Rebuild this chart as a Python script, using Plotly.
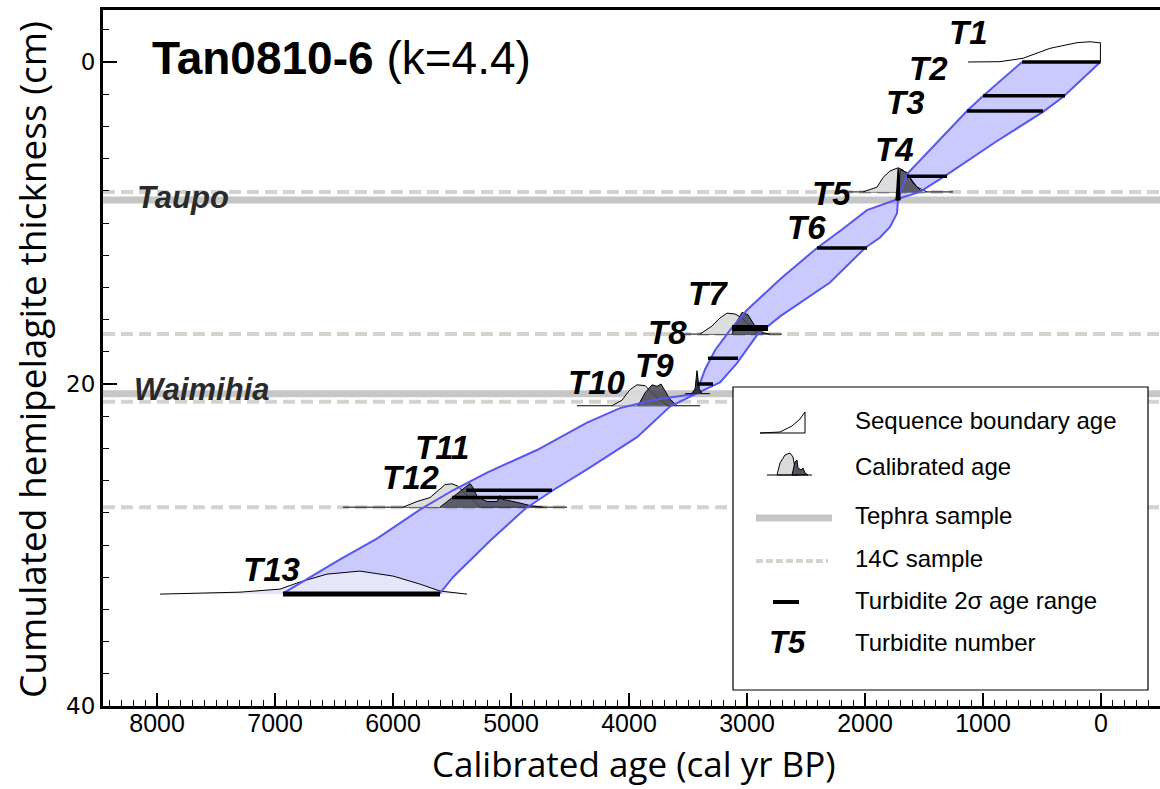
import plotly.graph_objects as go

# ---------------- axes ----------------
X_RANGE = [8458, -500]
Y_RANGE = [40, -3.23]
x_tick_vals = [0, 1000, 2000, 3000, 4000, 5000, 6000, 7000, 8000]
y_tick_vals = [0, 20, 40]

# ---------------- age-depth envelope (older / younger edges) ----------------
env_old_depth = [0, 2.11, 3.04, 6.9, 8.5, 9.2, 10.4, 11.55, 13.5, 15.4, 16.65, 17.9, 19.1, 20.0, 20.6,
                 21.0, 21.5, 22.4, 24.1, 25.5, 26.6, 27.8, 29.6, 30.9, 33.0]
env_old_age = [669, 1000, 1136, 1636, 1720, 1983, 2195, 2407, 2720, 3000, 3144, 3271, 3356, 3398, 3430,
               3797, 4076, 4356, 4780, 5203, 5492, 5771, 6136, 6449, 6932]
env_young_depth = [0, 2.17, 3.1, 5.0, 7.0, 8.07, 8.5, 9.4, 10.25, 10.9, 11.55, 13.7, 15.8, 16.96, 18.7,
                   19.9, 20.6, 21.4, 23.3, 25.3, 26.6, 27.75, 29.75, 32.0, 33.0]
env_young_age = [5, 322, 492, 900, 1305, 1534, 1720, 1729, 1788, 1873, 2000, 2297, 2720, 2915, 3085,
                 3229, 3430, 3653, 3932, 4356, 4644, 4880, 5180, 5492, 5602]

# ---------------- turbidites ----------------
turb_names = ["T1", "T2", "T3", "T4", "T5", "T6", "T7", "T8", "T9", "T10", "T11", "T12", "T13"]
turb_depth = [0, 2.1, 3.05, 7.1, 8.5, 11.55, 16.45, 16.6, 18.4, 20.0, 26.6, 27.05, 33.05]
turb_age_old = [669, 1000, 1136, 1644, 1740, 2407, 3127, 3127, 3331, 3424, 5380, 5500, 6932]
turb_age_young = [5, 305, 492, 1305, 1700, 1983, 2822, 2822, 3076, 3288, 4653, 4771, 5602]
turb_label_age = [1127, 1458, 1653, 1754, 2280, 2500, 3331, 3678, 3780, 4271, 5585, 5848, 7034]
turb_label_depth = [-1.86, 0.37, 2.48, 5.4, 8.14, 10.25, 14.35, 16.77, 18.8, 19.88, 23.9, 25.78, 31.5]

# ---------------- samples ----------------
tephra_names = ["Taupo", "Waimihia"]
tephra_depth = [8.57, 20.6]
tephra_label_age = [7780, 7620]
tephra_label_depth = [8.39, 20.37]
c14_depth = [8.07, 16.9, 21.1, 27.65]

# ---------------- sequence boundary age distributions ----------------
seq_t1_base = 0.0
seq_t1_age = [1127, 856, 661, 432, 203, 93, 25, 5, 5]
seq_t1_h = [0, 0.02, 0.23, 0.85, 1.2, 1.26, 1.2, 1.2, 0]
seq_t13_base = 33.05
seq_t13_age = [7975, 7297, 6958, 6789, 6560, 6280, 6000, 5771, 5602, 5373]
seq_t13_h = [0, 0.12, 0.31, 0.75, 1.24, 1.43, 1.12, 0.62, 0.19, 0]

# ---------------- calibrated age distributions ----------------
cal_base_depth = [8.07, 16.9, 21.35, 27.65]
cal_base_old = [2144, 3525, 4441, 6424]
cal_base_young = [1254, 2703, 3398, 4525]

cal_a_light_age = [2017, 1898, 1847, 1788, 1720, 1678, 1619, 1559, 1475]
cal_a_light_h = [0, 0.3, 0.9, 1.3, 1.5, 1.35, 0.9, 0.3, 0]
cal_a_dark_age = [1712, 1703, 1644, 1593, 1517]
cal_a_dark_h = [0, 1.4, 1.2, 0.55, 0]

cal_b_light_age = [3398, 3297, 3229, 3170, 3102, 3042, 2975, 2907]
cal_b_light_h = [0, 0.5, 1.0, 1.3, 1.25, 1.0, 0.5, 0]
cal_b_dark_age = [3127, 3085, 3042, 2992, 2941, 2873, 2805]
cal_b_dark_h = [0, 0.8, 1.35, 1.2, 0.6, 0.1, 0]

cal_c_light_age = [4144, 4059, 3992, 3932, 3864, 3805, 3737, 3670]
cal_c_light_h = [0, 0.35, 1.0, 1.3, 1.25, 0.8, 0.35, 0]
cal_c_dark_age = [3924, 3864, 3805, 3763, 3729, 3695, 3653, 3593]
cal_c_dark_h = [0, 0.8, 1.3, 1.2, 1.35, 0.9, 0.4, 0]

cal_d_light_age = [5915, 5797, 5686, 5627, 5559, 5500, 5449, 5407, 5347, 5263]
cal_d_light_h = [0, 0.35, 0.6, 0.97, 1.4, 1.45, 1.3, 0.97, 0.6, 0]
cal_d_dark_age = [5602, 5517, 5407, 5347, 5322, 5288, 5203, 5119, 5093, 5068, 4949, 4839, 4729]
cal_d_dark_h = [0, 0.48, 1.1, 1.47, 1.22, 0.66, 0.35, 0.35, 0.72, 0.48, 0.3, 0.1, 0]

# tephra age spikes
taupo_spike_age = [1735, 1722, 1718, 1705]
taupo_spike_h = [0, 1.96, 1.96, 0]
waim_spike_age = [3470, 3440, 3424, 3405, 3380]
waim_spike_h = [0, 0.3, 1.43, 0.3, 0]
waim_spike_base_old = 3525
waim_spike_base_young = 3314

# ---------------- styles ----------------
BAND_FILL = "rgba(95,95,255,0.33)"
BAND_EDGE = "#5656f0"
LIGHT = "rgba(218,218,218,0.92)"
DARK = "rgba(70,70,85,0.85)"
TEPHRA_COLOR = "#c6c6c6"
C14_COLOR = "#d3d3cc"

fig = go.Figure()


def pdf_trace(ages, heights, base, fill, lw=1):
    ys = [base - h for h in heights]
    return go.Scatter(x=ages, y=ys, mode="lines", fill="toself" if fill else None,
                      fillcolor=fill, line=dict(color="black", width=lw),
                      hoverinfo="skip", showlegend=False)


# envelope band fill
band_x = env_old_age + env_young_age[::-1]
band_y = env_old_depth + env_young_depth[::-1]
fig.add_trace(go.Scatter(x=band_x, y=band_y, mode="lines", fill="toself", fillcolor=BAND_FILL,
                         line=dict(width=0), showlegend=False, hoverinfo="skip"))

# calibrated-age baselines
for d, a0, a1 in zip(cal_base_depth, cal_base_old, cal_base_young):
    fig.add_trace(go.Scatter(x=[a0, a1], y=[d, d], mode="lines",
                             line=dict(color="black", width=1), showlegend=False, hoverinfo="skip"))

# calibrated pdfs
for la, lh, da, dh, b in [
    (cal_a_light_age, cal_a_light_h, cal_a_dark_age, cal_a_dark_h, cal_base_depth[0]),
    (cal_b_light_age, cal_b_light_h, cal_b_dark_age, cal_b_dark_h, cal_base_depth[1]),
    (cal_c_light_age, cal_c_light_h, cal_c_dark_age, cal_c_dark_h, cal_base_depth[2]),
    (cal_d_light_age, cal_d_light_h, cal_d_dark_age, cal_d_dark_h, cal_base_depth[3]),
]:
    fig.add_trace(pdf_trace(la, lh, b, LIGHT))
    fig.add_trace(pdf_trace(da, dh, b, DARK))

# sequence boundary pdfs
fig.add_trace(pdf_trace(seq_t1_age, seq_t1_h, seq_t1_base, None))
fig.add_trace(pdf_trace(seq_t13_age, seq_t13_h, seq_t13_base, "#e6e6fa"))

# envelope band edges
fig.add_trace(go.Scatter(x=band_x, y=band_y, mode="lines",
                         line=dict(color=BAND_EDGE, width=2), showlegend=False, hoverinfo="skip"))

# tephra spikes
fig.add_trace(pdf_trace(taupo_spike_age, taupo_spike_h, tephra_depth[0], "black", lw=1.5))
fig.add_trace(go.Scatter(x=[waim_spike_base_old, waim_spike_base_young], y=[tephra_depth[1]] * 2,
                         mode="lines", line=dict(color="black", width=1), showlegend=False, hoverinfo="skip"))
fig.add_trace(pdf_trace(waim_spike_age, waim_spike_h, tephra_depth[1], "#333344", lw=1))

# turbidite 2-sigma ranges
for i, (d, a0, a1) in enumerate(zip(turb_depth, turb_age_old, turb_age_young)):
    fig.add_trace(go.Scatter(x=[a0, a1], y=[d, d], mode="lines",
                             line=dict(color="black", width=5 if i == len(turb_depth) - 1 else 3.5),
                             showlegend=False, hoverinfo="skip"))

# turbidite labels
for name, a, d in zip(turb_names, turb_label_age, turb_label_depth):
    fig.add_annotation(x=a, y=d, text="<b><i>%s</i></b>" % name, showarrow=False,
                       font=dict(family="Liberation Sans, Arial", size=33, color="black"),
                       xanchor="center", yanchor="middle", height=30)

# tephra labels
for name, a, d in zip(tephra_names, tephra_label_age, tephra_label_depth):
    fig.add_annotation(x=a, y=d, text="<b><i>%s</i></b>" % name, showarrow=False,
                       font=dict(family="Liberation Sans, Arial", size=31, color="#2a2a2a"),
                       xanchor="center", yanchor="middle")

# sample lines (full width)
shapes = []
for d in tephra_depth:
    shapes.append(dict(type="line", xref="paper", x0=0, x1=1, yref="y", y0=d, y1=d,
                       line=dict(color=TEPHRA_COLOR, width=7), layer="below"))
for d in c14_depth:
    shapes.append(dict(type="line", xref="paper", x0=0, x1=1, yref="y", y0=d, y1=d,
                       line=dict(color=C14_COLOR, width=4, dash="12px,6px"), layer="below"))

# ---------------- legend (pixel layout -> paper) ----------------
PL, PR, PT, PB = 103, 1160, 10, 706


def px(x):
    return (x - PL) / (PR - PL)


def py(y):
    return (PB - y) / (PB - PT)


shapes.append(dict(type="rect", xref="paper", yref="paper", x0=px(733), x1=px(1148), y0=py(387), y1=py(690),
                   fillcolor="white", line=dict(color="black", width=1.2), layer="above"))


def path(points, close=False):
    s = "M " + " L ".join("%f,%f" % (px(a), py(b)) for a, b in points)
    return s + (" Z" if close else "")


# sequence boundary icon
shapes.append(dict(type="path", xref="paper", yref="paper",
                   path=path([(760, 433), (780, 432), (792, 426), (800, 419), (805, 412), (805, 433), (760, 433)]),
                   line=dict(color="black", width=1), fillcolor="white", layer="above"))
# calibrated age icon
shapes.append(dict(type="path", xref="paper", yref="paper",
                   path=path([(777, 475), (780, 463), (785, 455), (790, 453), (793, 457), (795, 468), (798, 475)], True),
                   line=dict(color="black", width=1), fillcolor="#dadada", layer="above"))
shapes.append(dict(type="path", xref="paper", yref="paper",
                   path=path([(792, 475), (795, 462), (797, 460), (798, 468), (801, 470), (803, 468), (805, 473), (808, 475)], True),
                   line=dict(color="black", width=1), fillcolor="#55556a", layer="above"))
shapes.append(dict(type="line", xref="paper", yref="paper", x0=px(767), x1=px(812), y0=py(475), y1=py(475),
                   line=dict(color="black", width=1), layer="above"))
# tephra / 14C / turbidite icons
shapes.append(dict(type="line", xref="paper", yref="paper", x0=px(756), x1=px(832), y0=py(518), y1=py(518),
                   line=dict(color=TEPHRA_COLOR, width=7), layer="above"))
shapes.append(dict(type="line", xref="paper", yref="paper", x0=px(756), x1=px(828), y0=py(561), y1=py(561),
                   line=dict(color=C14_COLOR, width=4, dash="7px,3px"), layer="above"))
shapes.append(dict(type="line", xref="paper", yref="paper", x0=px(773), x1=px(799), y0=py(602), y1=py(602),
                   line=dict(color="black", width=4), layer="above"))

legend_texts = ["Sequence boundary age", "Calibrated age", "Tephra sample", "14C sample",
                "Turbidite 2σ age range", "Turbidite number"]
legend_text_y = [420, 467, 515, 558, 600, 642]
for t, yy in zip(legend_texts, legend_text_y):
    fig.add_annotation(xref="paper", yref="paper", x=px(853), y=py(yy), text=t, showarrow=False,
                       xanchor="left", yanchor="middle",
                       font=dict(family="Liberation Sans, Arial", size=24, color="black"))
fig.add_annotation(xref="paper", yref="paper", x=px(787), y=py(642), text="<b><i>T5</i></b>", showarrow=False,
                   xanchor="center", yanchor="middle",
                   font=dict(family="Liberation Sans, Arial", size=31, color="black"))

# title
fig.add_annotation(xref="paper", yref="paper", x=px(150), y=py(58), xanchor="left", yanchor="middle",
                   text="<b>Tan0810-6</b> (k=4.4)", showarrow=False,
                   font=dict(family="Liberation Sans, Arial", size=46, color="black"))

# axis titles
fig.add_annotation(xref="paper", yref="paper", x=px(634), y=py(763), xanchor="center", yanchor="middle",
                   text="Calibrated age (cal yr BP)", showarrow=False, height=44,
                   font=dict(family="Open Sans", size=35, color="black"))
fig.add_annotation(xref="paper", yref="paper", x=px(31), y=py(360), xanchor="center", yanchor="middle",
                   text="Cumulated hemipelagite thickness (cm)", textangle=-90, showarrow=False,
                   font=dict(family="Open Sans", size=37, color="black"))

fig.update_layout(
    width=1160, height=789,
    margin=dict(l=PL, r=1160 - PR, t=PT, b=789 - PB),
    plot_bgcolor="white", paper_bgcolor="white",
    shapes=shapes,
    showlegend=False,
    xaxis=dict(range=X_RANGE, tickvals=x_tick_vals, ticks="inside", ticklen=13, tickwidth=2,
               tickcolor="black", showline=True, linecolor="black", linewidth=3, mirror=True,
               showgrid=False, zeroline=False, ticklabelstandoff=-7,
               tickfont=dict(family="Liberation Sans", size=25, color="black"),
               minor=dict(dtick=100, tick0=0, ticks="inside", ticklen=6, tickwidth=1, tickcolor="black")),
    yaxis=dict(range=Y_RANGE, tickvals=y_tick_vals, ticks="inside", ticklen=14, tickwidth=2,
               tickcolor="black", showline=True, linecolor="black", linewidth=3, mirror=False,
               showgrid=False, zeroline=False,
               tickfont=dict(family="DejaVu Sans", size=23, color="black"),
               minor=dict(dtick=2, tick0=0, ticks="inside", ticklen=6, tickwidth=1, tickcolor="black")),
)

fig.write_html("out.html", config={"displayModeBar": False},
               post_script="document.body.style.margin='0px';")
